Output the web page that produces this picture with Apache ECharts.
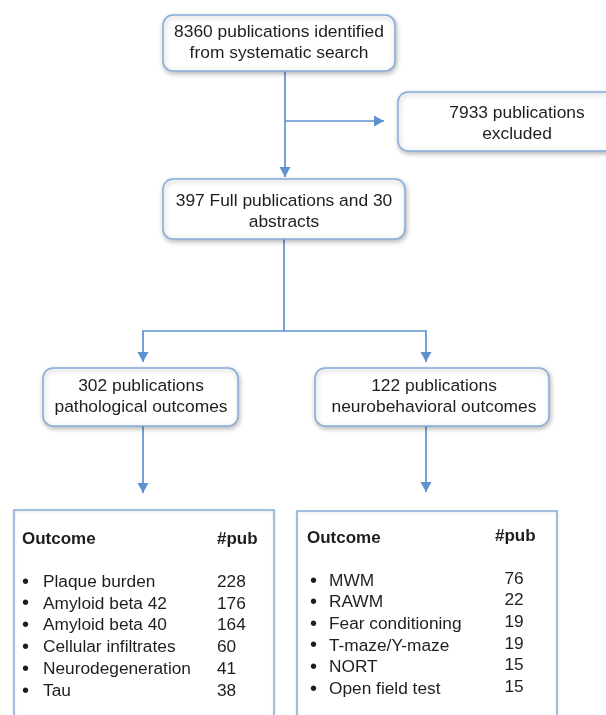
<!DOCTYPE html>
<html><head><meta charset="utf-8">
<script src="https://cdn.jsdelivr.net/npm/echarts@6/dist/echarts.min.js"></script>
<style>html,body{margin:0;padding:0;background:#fff}#c{width:606px;height:715px}</style>
</head><body><div id="c"></div>
<script>
// ---- data ----
const stepTexts = [
  "8360 publications identified\nfrom systematic search",
  "7933 publications\nexcluded",
  "397 Full publications and 30\nabstracts",
  "302 publications\npathological outcomes",
  "122 publications\nneurobehavioral outcomes"
];
const listHeaders = ["Outcome", "#pub"];
const pathOutcomes = ["Plaque burden", "Amyloid beta 42", "Amyloid beta 40", "Cellular infiltrates", "Neurodegeneration", "Tau"];
const pathCounts = [228, 176, 164, 60, 41, 38];
const behavOutcomes = ["MWM", "RAWM", "Fear conditioning", "T-maze/Y-maze", "NORT", "Open field test"];
const behavCounts = [76, 22, 19, 19, 15, 15];

// ---- layout (positions / sizes, in page units) ----
const layout = {
  boxes: [[163,15,395,71],[398,92,640,151],[163,179,405,239],[43,368,238,426],[315,368,549,426]],
  boxText: [[279,43],[517,123.5],[284,211.5],[141,396.5],[434,396.5]],
  lists: [
    {rect:[14,510,274,735], headX:[22,217], headY:[539,539], bulletX:22, textX:43, numX:217, numAlign:'left', rowY0:582, rowStep:21.8, numDy:0},
    {rect:[297,511,557,735], headX:[307,495], headY:[538,536], bulletX:310, textX:329, numX:514, numAlign:'center', rowY0:581, rowStep:21.6, numDy:-2}
  ],
  connectors: [
    {pts:[[285,71],[285,177]], arrow:true},
    {pts:[[285,121],[384,121]], arrow:true},
    {pts:[[284,239],[284,331]], arrow:false},
    {pts:[[143,362],[143,331],[426,331],[426,362]], arrow:true, arrowStart:true},
    {pts:[[143,426],[143,493]], arrow:true},
    {pts:[[426,426],[426,492]], arrow:true}
  ]
};
const LINE = '#5e92cf';
const BORDER = '#86acdb';
const TEXT = '#1e1e1e';
const FONT_BOX = '17.4px "Liberation Sans", Arial, sans-serif';
const FONT_LIST = '17.3px "Liberation Sans", Arial, sans-serif';
const FONT_BULLET = '20px "Liberation Sans", Arial, sans-serif';
const FONT_HEAD = 'bold 17px "Liberation Sans", Arial, sans-serif';

const listData = [[pathOutcomes, pathCounts], [behavOutcomes, behavCounts]];

const chart = echarts.init(document.getElementById('c'), null, {renderer:'canvas'});

function arrowHead(api, tip, from) {
  const t = api.coord(tip), f = api.coord(from);
  const dx = t[0]-f[0], dy = t[1]-f[1];
  const len = Math.sqrt(dx*dx+dy*dy) || 1;
  const ux = dx/len, uy = dy/len;
  const L = 10, Wd = 5.5;
  const bx = t[0]-ux*L, by = t[1]-uy*L;
  return {
    type:'polygon',
    shape:{points:[[t[0],t[1]],[bx - uy*Wd, by + ux*Wd],[bx + uy*Wd, by - ux*Wd]]},
    style:{fill:LINE}
  };
}

const option = {
  animation:false,
  grid:{left:0,right:0,top:0,bottom:0},
  xAxis:{type:'value',min:0,max:606,show:false},
  yAxis:{type:'value',min:0,max:715,inverse:true,show:false},
  series:[
    {
      type:'custom', coordinateSystem:'cartesian2d', clip:false, silent:true,
      data: layout.connectors.map((c,i)=>[i,0]),
      renderItem(params, api){
        const c = layout.connectors[params.dataIndex];
        const pts = c.pts.map(p=>api.coord(p));
        const children = [{type:'polyline', shape:{points:pts}, style:{stroke:LINE, lineWidth:1.7, fill:null}}];
        if (c.arrow) {
          const n = c.pts.length;
          children.push(arrowHead(api, c.pts[n-1], c.pts[n-2]));
          if (c.arrowStart) children.push(arrowHead(api, c.pts[0], c.pts[1]));
        }
        return {type:'group', children};
      }
    },
    {
      type:'custom', coordinateSystem:'cartesian2d', clip:false, silent:true,
      data: stepTexts.map((t,i)=>[i,0]),
      renderItem(params, api){
        const i = params.dataIndex;
        const b = layout.boxes[i];
        const p0 = api.coord([b[0],b[1]]), p1 = api.coord([b[2],b[3]]);
        const tc = api.coord(layout.boxText[i]);
        return {type:'group', children:[
          {type:'rect', shape:{x:p0[0],y:p0[1],width:p1[0]-p0[0],height:p1[1]-p0[1],r:10},
           style:{fill:'#fff', stroke:BORDER, lineWidth:1.5, shadowBlur:5, shadowColor:'rgba(0,0,0,0.28)', shadowOffsetX:1, shadowOffsetY:2}},
          {type:'text', style:{text:stepTexts[i], x:tc[0], y:tc[1], align:'center', verticalAlign:'middle', font:FONT_BOX, fill:TEXT, lineHeight:21}}
        ]};
      }
    },
    {
      type:'custom', coordinateSystem:'cartesian2d', clip:false, silent:true,
      data: listData.map((d,i)=>[i,0]),
      renderItem(params, api){
        const i = params.dataIndex;
        const L = layout.lists[i];
        const names = listData[i][0], counts = listData[i][1];
        const p0 = api.coord([L.rect[0],L.rect[1]]), p1 = api.coord([L.rect[2],L.rect[3]]);
        const children = [
          {type:'rect', shape:{x:p0[0],y:p0[1],width:p1[0]-p0[0],height:p1[1]-p0[1]},
           style:{fill:'#fff', stroke:BORDER, lineWidth:1.5, shadowBlur:3, shadowColor:'rgba(0,0,0,0.12)', shadowOffsetY:1}}
        ];
        listHeaders.forEach((h,k)=>{
          const p = api.coord([L.headX[k], L.headY[k]]);
          children.push({type:'text', style:{text:h, x:p[0], y:p[1], align:'left', verticalAlign:'middle', font:FONT_HEAD, fill:TEXT}});
        });
        names.forEach((nm,r)=>{
          const y = L.rowY0 + r*L.rowStep;
          const pb = api.coord([L.bulletX, y]);
          const pt = api.coord([L.textX, y]);
          const pn = api.coord([L.numX, y + L.numDy]);
          children.push({type:'text', style:{text:'\u2022', x:pb[0], y:pb[1], align:'left', verticalAlign:'middle', font:FONT_BULLET, fill:TEXT}});
          children.push({type:'text', style:{text:nm, x:pt[0], y:pt[1], align:'left', verticalAlign:'middle', font:FONT_LIST, fill:TEXT}});
          children.push({type:'text', style:{text:String(counts[r]), x:pn[0], y:pn[1], align:L.numAlign, verticalAlign:'middle', font:FONT_LIST, fill:TEXT}});
        });
        return {type:'group', children};
      }
    }
  ]
};
chart.setOption(option);
</script>
</body></html>
